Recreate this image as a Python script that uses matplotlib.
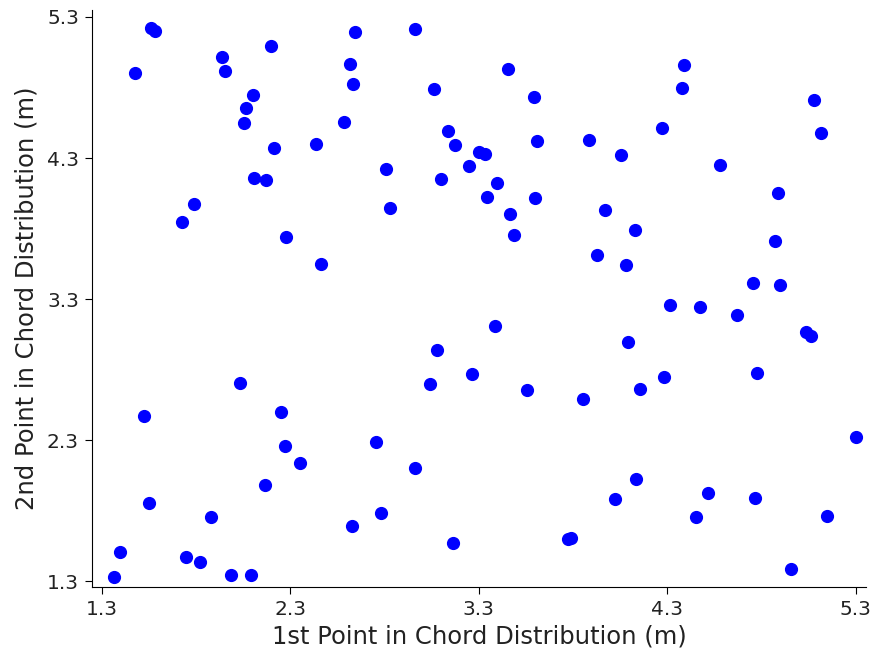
import numpy as np
import matplotlib
matplotlib.use('Agg')
import matplotlib.pyplot as plt

# chord point pairs (m)
first_pt = [1.564, 1.581, 1.475, 1.940, 1.954, 2.200, 2.103, 2.064, 2.053, 2.212,
            2.106, 2.170, 1.790, 1.726, 2.280,
            2.644, 2.961, 2.616, 2.635, 2.584, 2.437, 2.808, 2.830, 2.463, 3.061,
            3.457, 3.592, 3.136, 3.174, 3.302, 3.332, 3.608, 3.885, 3.247, 3.100,
            3.397, 3.346, 3.597, 3.464, 3.486, 3.386,
            4.388, 4.381, 4.274, 5.077, 5.116, 4.055, 4.578, 4.890, 3.968, 4.129,
            4.870, 3.930, 4.082, 4.757, 4.897, 4.313, 4.474, 4.672, 5.038, 5.061,
            4.090, 4.778, 4.281, 4.154, 3.853, 5.300, 4.136, 4.023, 4.518, 4.764,
            4.451, 5.148, 4.957,
            3.081, 3.264, 3.042, 3.555, 2.271, 2.352, 2.754, 2.964, 2.780, 2.630,
            3.164, 3.774, 3.792,
            2.034, 1.526, 2.253, 2.165, 1.549, 1.878, 1.397, 1.749, 1.820, 1.365,
            1.986, 2.094]
second_pt = [5.220, 5.200, 4.905, 5.018, 4.917, 5.097, 4.745, 4.657, 4.550, 4.371,
             4.156, 4.142, 3.974, 3.848, 3.742,
             5.196, 5.213, 4.967, 4.825, 4.557, 4.399, 4.220, 3.945, 3.548, 4.789,
             4.931, 4.735, 4.491, 4.390, 4.345, 4.326, 4.418, 4.425, 4.241, 4.149,
             4.125, 4.026, 4.019, 3.901, 3.752, 3.111,
             4.960, 4.796, 4.515, 4.711, 4.480, 4.321, 4.250, 4.054, 3.931, 3.787,
             3.709, 3.610, 3.541, 3.416, 3.397, 3.257, 3.245, 3.187, 3.068, 3.038,
             2.997, 2.777, 2.749, 2.666, 2.591, 2.323, 2.023, 1.882, 1.926, 1.891,
             1.756, 1.766, 1.385,
             2.936, 2.768, 2.697, 2.653, 2.260, 2.139, 2.288, 2.104, 1.784, 1.695,
             1.572, 1.600, 1.605,
             2.706, 2.472, 2.501, 1.981, 1.853, 1.756, 1.508, 1.472, 1.437, 1.330,
             1.347, 1.347]

ticks = [1.3, 2.3, 3.3, 4.3, 5.3]

fig = plt.figure(figsize=(8.76, 6.58), dpi=100)
ax = fig.add_axes([0.1047, 0.108, 0.8843, 0.877])
ax.scatter(first_pt, second_pt, c='b', s=72)

ax.set_xlim(1.247, 5.357)
ax.set_ylim(1.26, 5.35)
ax.set_xticks(ticks)
ax.set_yticks(ticks)
ax.tick_params(labelsize=14.5, labelcolor='#222222', length=4.7, pad=4.5)
ax.spines['top'].set_visible(False)
ax.spines['right'].set_visible(False)
ax.set_xlabel('1st Point in Chord Distribution (m)', fontsize=17.5, color='#222222', labelpad=4)
ax.set_ylabel('2nd Point in Chord Distribution (m)', fontsize=17.5, color='#222222', labelpad=6)

fig.savefig('out.png', dpi=100)
